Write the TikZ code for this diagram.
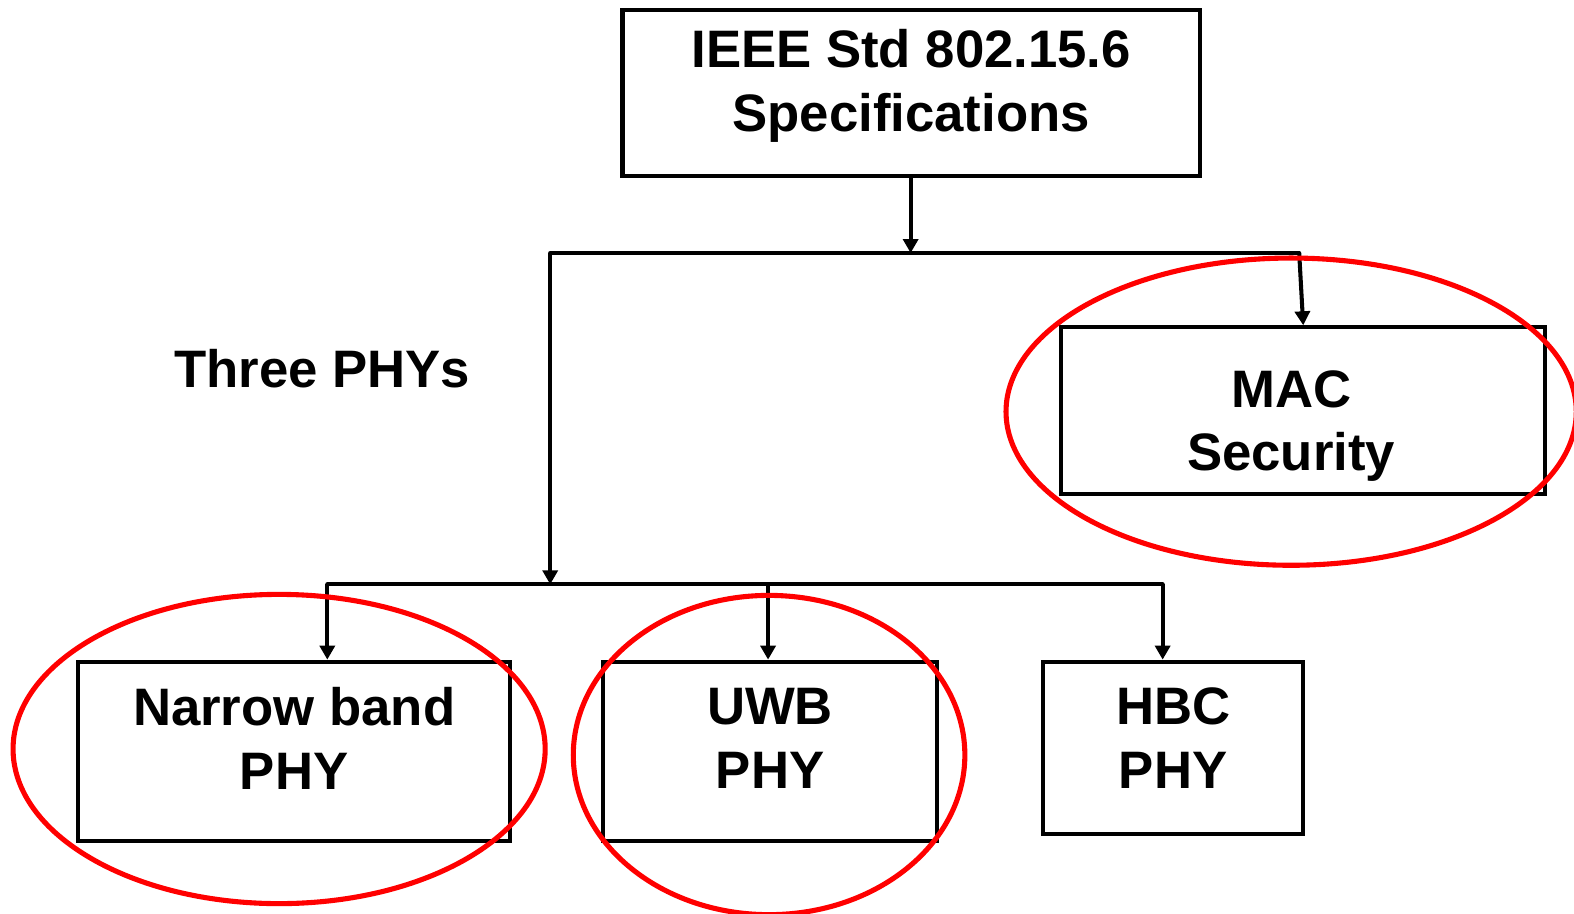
\documentclass[tikz,border=0pt]{standalone}
\usepackage{fontspec}
\setmainfont{Liberation Sans}
\usetikzlibrary{arrows.meta}
\definecolor{ringred}{rgb}{1, 0, 0}
\newdimen\px
\px=0.01004cm
\tikzset{
  block/.style={draw, line width=1.15pt, rectangle, inner sep=0pt},
  blocktext/.style={align=center, inner sep=0pt, font=\fontsize{15}{18}\selectfont\bfseries},
  conn/.style={line width=1.15pt},
  arr/.style={conn, -{Triangle[length=0.14cm, width=0.15cm]}},
  ring/.style={ringred, line width=1.45pt}
}

\begin{document}
\begin{tikzpicture}[x=\px, y=-\px]
    \useasboundingbox (0,0) rectangle (1567.7,909.4);
    \node[block, minimum width=575\px, minimum height=165\px] (spec) at (907.5,92.5) {};
    \node[block, minimum width=482\px, minimum height=166\px] (mac) at (1298,409) {};
    \node[block, minimum width=430\px, minimum height=179\px] (nb) at (293,748.5) {};
    \node[block, minimum width=332\px, minimum height=179\px] (uwb) at (767,748.5) {};
    \node[block, minimum width=259\px, minimum height=172\px] (hbc) at (1168.5,745) {};
    \node[blocktext, yshift=7\px] (spec-t) at (spec) {IEEE Std 802.15.6\\Specifications};
    \node[blocktext, xshift=-12\px, yshift=-15\px] (mac-t) at (mac) {MAC\\Security};
    \node[blocktext, yshift=13\px] (nb-t) at (nb) {Narrow band\\PHY};
    \node[blocktext, yshift=13\px] (uwb-t) at (uwb) {UWB\\PHY};
    \node[blocktext, yshift=10\px] (hbc-t) at (hbc) {HBC\\PHY};
    \node[blocktext, anchor=base west] (three) at (173,386) {Three PHYs};
    \coordinate (top) at (907,252);
    \coordinate (tl) at (548,252);
    \coordinate (tr) at (1294,252);
    \coordinate (bl) at (326,582);
    \coordinate (bm) at (548,582);
    \coordinate (bu) at (765,582);
    \coordinate (br) at (1158,582);
    \draw[arr] (spec.south -| top) -- (top);
    \draw[conn, line cap=round] (tl) -- (tr);
    \draw[arr] (tr) -- (mac.north);
    \draw[arr] (tl) -- (bm);
    \draw[conn, line cap=round] (bl) -- (br);
    \foreach \c/\b in {bl/nb, bu/uwb, br/hbc}{
      \draw[arr] (\c) -- (\c |- \b.north);
    }
    \draw[ring] (1286,410) ellipse [x radius=284\px, y radius=153\px];
    \draw[ring] (278,746) ellipse [x radius=265\px, y radius=154\px];
    \draw[ring] (766,752) ellipse [x radius=195\px, y radius=159\px];
  \end{tikzpicture}
\end{document}
